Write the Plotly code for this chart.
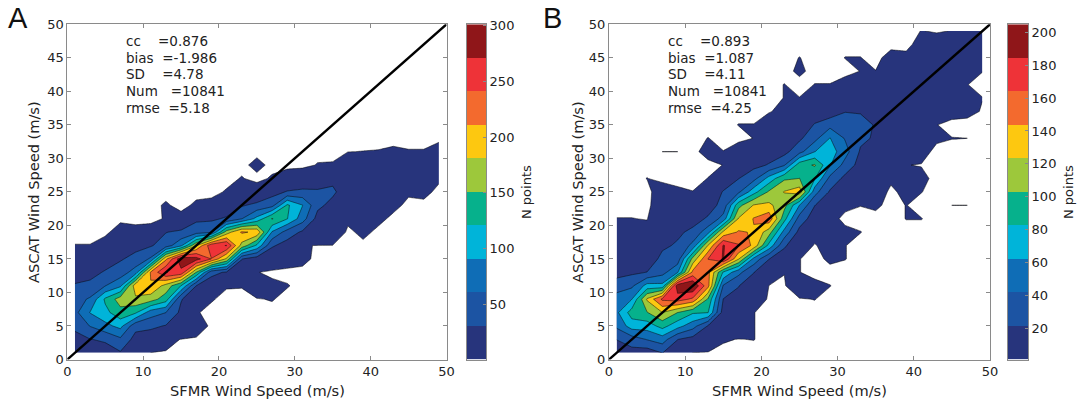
import plotly.graph_objects as go

W, H = 1079, 402
grid = list(range(1, 50, 2))

# Panel A: counts per SFMR column (x = 1, 3, ... 49), listed from y = 1 upward; columns stop at their last non-zero cell
a_cols = [
 [10,20,38,52,48,33,20,10,1],
 [18,30,62,92,65,36,24,8,1],
 [18,35,82,112,126,60,33,20,3],
 [28,55,100,140,165,85,45,28,15,3],
 [12,20,40,125,175,199,75,40,22,2],
 [.8,14,37,75,165,208,215,65,28,2.5],
 [.5,3,29,61,135,170,272,205,45,30,1.2,1.3],
 [0,.7,16,24,33,120,262,292,85,36,2],
 [0,.3,4,1.2,10,31,150,283,178,48,25,1.5],
 [0,0,0,0,1.2,12,40,240,262,58,25,2],
 [0,0,0,0,0,1.2,27,175,272,165,35,8,1.2],
 [0,0,0,0,0,1.1,14,32,170,215,60,28,1.3,1.1],
 [0,0,0,0,.7,4,1.1,15,115,205,100,38,3,0,2],
 [0,0,0,0,1.1,2,0,6,35,88,153,50,20,1.3],
 [0,0,0,0,0,1.1,0,3,18,48,122,126,33,3],
 [0,0,0,0,0,0,0,2,1.1,26,75,92,38,4],
 [0,0,0,0,0,0,0,0,.8,10,20,38,36,8,1.1],
 [0,0,0,0,0,0,0,0,.8,6,12,22,36,24,1.2],
 [0,0,0,0,0,0,0,0,0,0,2,8,15,10,4,.85],
 [0,0,0,0,0,0,0,0,0,2,5,7,8,6,4,.95],
 [0,0,0,0,0,0,0,0,0,0,2,5,6,5,3,1.05],
 [0,0,0,0,0,0,0,0,0,0,0,2,4,4,3,1.5],
 [0,0,0,0,0,0,0,0,0,0,0,0,1.5,3,2,1.1],
 [0,0,0,0,0,0,0,0,0,0,0,0,2,3,2,1.1],
 [0,0,0,0,0,0,0,0,0,0,0,0,0,1.5,2,3],
]

# Panel B: same layout
b_cols = [
 [10,22,46,58,50,33,13,10,7,4,1.3],
 [14,32,72,92,62,38,18,10,6,3,1.3],
 [10,43,72,102,126,70,22,9,5,3,1,0,0,1.3],
 [22,52,90,123,168,68,35,27,18,9,7,5,4,0,0,1.21],
 [8,22,70,103,174,198,60,30,24,18,7,4,2,0,0,1.21],
 [1.1,14,50,85,160,205,150,110,48,26,14,7,1.3],
 [.8,8,20,83,100,150,150,164.5,125,55,24,13,5,1.3,0,3,1.3],
 [.5,1.5,5,12,21,40,80,186,186,128,50,28,23,7,1.3,1.3],
 [0,1.1,6,14,18,22,48,125,166,146,125,96,38,21,6,4,0,1.3],
 [0,1.3,1.3,1.3,8,14,22,56,138,142,145,125,75,35,16,6,1.3,1.3],
 [0,0,0,0,0,1.1,7,22,76,112,158,128,106,70,23,12,6,3,1.0],
 [0,0,0,0,0,.8,1.3,9,25,55,90,110,124.5,100,40,15,7,3,2,1.3,1.3],
 [0,0,0,0,.9,5,1.3,1.3,4,15,33,62,135,103.2,95,35,18,8,4,1.3,0,2,1.3],
 [0,0,0,0,1.3,2.4,0,0,.9,3,11,22,50,84,105,62,35,23,10,4,1.3],
 [0,0,0,0,0,1.3,0,2,3,3,3,8,19,36,64,72,63,35,9,5,1.3],
 [0,0,0,0,0,0,0,1.3,1.3,2.4,0,2.4,8,16,34,50,40,30,21,4,3,0,1.3],
 [0,0,0,0,0,0,0,0,0,1.3,0,1.3,5,9,14,19,26,33,19,7,3,1.3,1.3],
 [0,0,0,0,0,0,0,0,0,0,0,2,5,8,10,14,19,19,12,7,3,1.3,0],
 [0,0,0,0,0,0,0,0,0,0,0,0,0,2.4,5,8,9,9,9,7,6,4,3],
 [0,0,0,0,0,0,0,0,0,0,1.3,1.3,3,5,1.3,5,6,6,7,6,7,5,2.4],
 [0,0,0,0,0,0,0,0,0,0,1.3,0,1.3,2.4,1,3,4,5,5,6,6,5,4,3,1.3],
 [0,0,0,0,0,0,0,0,0,0,0,0,0,0,0,0,2,1.3,3,4,4,4,4,3,.9],
 [0,0,0,0,0,0,0,0,0,0,0,1.21,0,0,0,0,1.3,0,3,3,4,3,3,3,1.3],
 [0,0,0,0,0,0,0,0,0,0,0,1.21,0,0,0,0,1.21,0,2.4,3,1.3,1.3,3,2,1.3],
 [0,0,0,0,0,0,0,0,0,0,0,0,0,0,0,0,0,0,.9,1.3,0,1.3,2,2,1.3],
]

a_start, a_size = 0.9, 30.0
b_start, b_size = 1.2, 20.36
a_ticks = [50, 100, 150, 200, 250, 300]
b_ticks = [20, 40, 60, 80, 100, 120, 140, 160, 180, 200]
x_ticks = [0, 10, 20, 30, 40, 50]
y_ticks = [0, 5, 10, 15, 20, 25, 30, 35, 40, 45, 50]
band_colors = ["#27347c", "#1c54a3", "#0f6db6", "#00b4d9", "#06b18c",
               "#9dc83b", "#fdc810", "#f36a2e", "#ee3338", "#8f1619"]
a_stats = ["cc\u00a0\u00a0\u00a0\u00a0=0.876", "bias\u00a0\u00a0=-1.986", "SD\u00a0\u00a0\u00a0\u00a0=4.78",
           "Num\u00a0\u00a0\u00a0=10841", "rmse\u00a0\u00a0=5.18"]
b_stats = ["cc\u00a0\u00a0\u00a0\u00a0=0.893", "bias\u00a0\u00a0=1.087", "SD\u00a0\u00a0\u00a0\u00a0=4.11",
           "Num\u00a0\u00a0\u00a0=10841", "rmse\u00a0\u00a0=4.25"]

FONT = "DejaVu Sans"
GREY = "#8a8a8a"
TXT = "#222222"


def rows(cols):
    full = [c + [0] * (len(grid) - len(c)) for c in cols]
    return [[full[i][j] for i in range(len(grid))] for j in range(len(grid))]


def dx(a, b):
    return [a / W, b / W]


def dy(top, bot):
    return [1 - bot / H, 1 - top / H]


fig = go.Figure()
stops = [[0, "#ffffff"]] + [[(k + 1) / 10, c] for k, c in enumerate(band_colors)]
cb_stops = [[k / 9, c] for k, c in enumerate(band_colors)]

panels = [
    dict(cols=a_cols, start=a_start, size=a_size, ticks=a_ticks, xa="x", ya="y", cx="x2", cy="y2",
         plot=(67.3, 446.5), bar=(466.5, 486), letter="A", lx=18, stats=a_stats, sx=124, ntx=526,
         ax="xaxis", ay="yaxis", cax="xaxis2", cay="yaxis2", top=300.9, ylx=33, xcx=257),
    dict(cols=b_cols, start=b_start, size=b_size, ticks=b_ticks, xa="x3", ya="y3", cx="x4", cy="y4",
         plot=(609, 990), bar=(1008, 1028), letter="B", lx=552, stats=b_stats, sx=666, ntx=1068,
         ax="xaxis3", ay="yaxis3", cax="xaxis4", cay="yaxis4", top=204.8, ylx=577, xcx=799),
]

layout = dict(width=W, height=H, margin=dict(l=0, r=0, t=0, b=0), paper_bgcolor="white",
              plot_bgcolor="white", showlegend=False, font=dict(family=FONT, size=13, color=TXT))
annos = []


def note(text, x, y, size, family=FONT, angle=0, anchor="center", color=TXT):
    annos.append(dict(text=text, x=x / W, y=1 - y / H, xref="paper", yref="paper", showarrow=False,
                      xanchor=anchor, yanchor="middle", textangle=angle,
                      font=dict(size=size, family=family, color=color)))


for p in panels:
    fig.add_trace(go.Contour(
        x=grid, y=grid, z=rows(p["cols"]), xaxis=p["xa"], yaxis=p["ya"],
        autocontour=False,
        contours=dict(start=p["start"], end=p["start"] + 9 * p["size"], size=p["size"], coloring="fill"),
        line=dict(color="rgba(10,10,10,0.85)", width=0.6, smoothing=0),
        colorscale=stops, showscale=False, hoverinfo="skip"))
    fig.add_trace(go.Scatter(x=[0, 50], y=[0, 50], mode="lines", xaxis=p["xa"], yaxis=p["ya"],
                             line=dict(color="black", width=2.4), hoverinfo="skip"))
    edges = [p["start"] + k * p["size"] for k in range(10)] + [p["top"]]
    fig.add_trace(go.Heatmap(x=[0, 1], y=edges, z=[[k] for k in range(10)], xaxis=p["cx"], yaxis=p["cy"],
                             colorscale=cb_stops, zmin=0, zmax=9, showscale=False, hoverinfo="skip"))
    base = dict(showgrid=False, zeroline=False, showline=True, linecolor=GREY, linewidth=1,
                mirror="ticks", ticks="inside", ticklen=4, tickcolor=GREY, automargin=False,
                range=[0, 50], tickfont=dict(size=13, family=FONT, color=TXT))
    layout[p["ax"]] = dict(base, domain=dx(*p["plot"]), anchor=p["ya"], tickvals=x_ticks)
    layout[p["ay"]] = dict(base, domain=dy(24.3, 359.5), anchor=p["xa"], tickvals=y_ticks)
    layout[p["cax"]] = dict(domain=dx(*p["bar"]), anchor=p["cy"], range=[0, 1], showticklabels=False,
                            showgrid=False, zeroline=False, showline=True, linecolor=GREY, linewidth=1,
                            mirror=True, ticks="", automargin=False)
    layout[p["cay"]] = dict(domain=dy(24.3, 359.5), anchor=p["cx"], side="right", automargin=False,
                            range=[edges[0], edges[-1]], tickvals=p["ticks"], ticks="inside", ticklen=3,
                            tickcolor=GREY, showgrid=False, zeroline=False, showline=True,
                            linecolor=GREY, linewidth=1, mirror=True,
                            tickfont=dict(size=13, family=FONT, color=TXT))
    note(p["letter"], p["lx"], 18, 29, family="Liberation Sans", color="#111111")
    note("SFMR Wind Speed (m/s)", p["xcx"], 390, 14.6)
    note("ASCAT Wind Speed (m/s)", p["ylx"], 192, 14.6, angle=-90)
    for i, s in enumerate(p["stats"]):
        note(s, p["sx"], 41 + 16.75 * i, 13.5, anchor="left")
    note("N points", p["ntx"], 192, 13, angle=-90)

layout["annotations"] = annos
fig.update_layout(**layout)
fig.write_html("out.html", config=dict(displayModeBar=False), post_script="document.body.style.margin='0';")
